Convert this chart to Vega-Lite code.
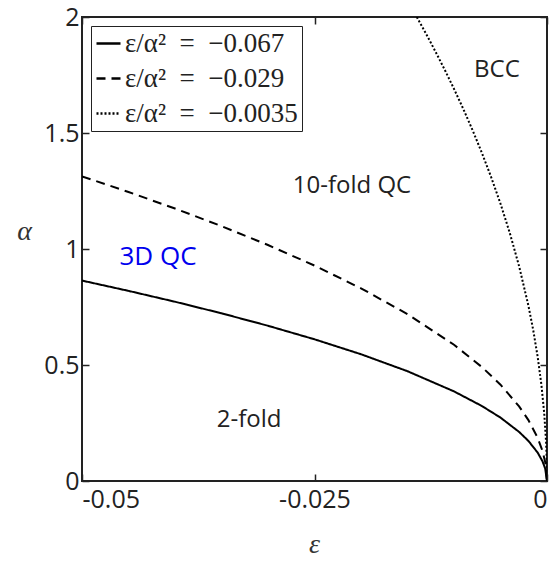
{
  "$schema": "https://vega.github.io/schema/vega-lite/v6.json",
  "autosize": {"type": "none"},
  "width": 465,
  "height": 464,
  "padding": {"left": 82, "top": 17, "right": 10, "bottom": 81},
  "config": {
    "view": {"stroke": "#222", "strokeWidth": 2},
    "axis": {"grid": false, "domain": false, "tickColor": "#222", "tickWidth": 1.5, "tickSize": -7, "labelFont": "Open Sans", "labelFontSize": 25, "labelColor": "#222", "titleFont": "Liberation Serif", "titleFontSize": 28, "titleFontStyle": "italic", "titleFontWeight": "normal", "titleColor": "#333"}
  },
  "datasets": {
    "curves": [
      {"series": "ε/α² = −0.067", "eps": -0.05, "alpha": 0.8639},
      {"series": "ε/α² = −0.067", "eps": -0.045, "alpha": 0.8195},
      {"series": "ε/α² = −0.067", "eps": -0.04, "alpha": 0.7727},
      {"series": "ε/α² = −0.067", "eps": -0.035, "alpha": 0.7228},
      {"series": "ε/α² = −0.067", "eps": -0.03, "alpha": 0.6691},
      {"series": "ε/α² = −0.067", "eps": -0.025, "alpha": 0.6108},
      {"series": "ε/α² = −0.067", "eps": -0.02, "alpha": 0.5464},
      {"series": "ε/α² = −0.067", "eps": -0.015, "alpha": 0.4732},
      {"series": "ε/α² = −0.067", "eps": -0.01, "alpha": 0.3863},
      {"series": "ε/α² = −0.067", "eps": -0.007, "alpha": 0.3232},
      {"series": "ε/α² = −0.067", "eps": -0.005, "alpha": 0.2732},
      {"series": "ε/α² = −0.067", "eps": -0.003, "alpha": 0.2116},
      {"series": "ε/α² = −0.067", "eps": -0.002, "alpha": 0.1728},
      {"series": "ε/α² = −0.067", "eps": -0.001, "alpha": 0.1222},
      {"series": "ε/α² = −0.067", "eps": -0.0005, "alpha": 0.0864},
      {"series": "ε/α² = −0.067", "eps": -0.0002, "alpha": 0.0546},
      {"series": "ε/α² = −0.067", "eps": 0, "alpha": 0},
      {"series": "ε/α² = −0.029", "eps": -0.05, "alpha": 1.3131},
      {"series": "ε/α² = −0.029", "eps": -0.045, "alpha": 1.2457},
      {"series": "ε/α² = −0.029", "eps": -0.04, "alpha": 1.1744},
      {"series": "ε/α² = −0.029", "eps": -0.035, "alpha": 1.0986},
      {"series": "ε/α² = −0.029", "eps": -0.03, "alpha": 1.0171},
      {"series": "ε/α² = −0.029", "eps": -0.025, "alpha": 0.9285},
      {"series": "ε/α² = −0.029", "eps": -0.02, "alpha": 0.8305},
      {"series": "ε/α² = −0.029", "eps": -0.015, "alpha": 0.7192},
      {"series": "ε/α² = −0.029", "eps": -0.01, "alpha": 0.5872},
      {"series": "ε/α² = −0.029", "eps": -0.007, "alpha": 0.4913},
      {"series": "ε/α² = −0.029", "eps": -0.005, "alpha": 0.4152},
      {"series": "ε/α² = −0.029", "eps": -0.003, "alpha": 0.3216},
      {"series": "ε/α² = −0.029", "eps": -0.002, "alpha": 0.2626},
      {"series": "ε/α² = −0.029", "eps": -0.001, "alpha": 0.1857},
      {"series": "ε/α² = −0.029", "eps": -0.0005, "alpha": 0.1313},
      {"series": "ε/α² = −0.029", "eps": -0.0002, "alpha": 0.083},
      {"series": "ε/α² = −0.029", "eps": 0, "alpha": 0},
      {"series": "ε/α² = −0.0035", "eps": -0.014, "alpha": 2.0},
      {"series": "ε/α² = −0.0035", "eps": -0.013, "alpha": 1.9272},
      {"series": "ε/α² = −0.0035", "eps": -0.012, "alpha": 1.8516},
      {"series": "ε/α² = −0.0035", "eps": -0.011, "alpha": 1.7728},
      {"series": "ε/α² = −0.0035", "eps": -0.01, "alpha": 1.6903},
      {"series": "ε/α² = −0.0035", "eps": -0.009, "alpha": 1.6036},
      {"series": "ε/α² = −0.0035", "eps": -0.008, "alpha": 1.5119},
      {"series": "ε/α² = −0.0035", "eps": -0.007, "alpha": 1.4142},
      {"series": "ε/α² = −0.0035", "eps": -0.006, "alpha": 1.3093},
      {"series": "ε/α² = −0.0035", "eps": -0.005, "alpha": 1.1952},
      {"series": "ε/α² = −0.0035", "eps": -0.004, "alpha": 1.069},
      {"series": "ε/α² = −0.0035", "eps": -0.003, "alpha": 0.9258},
      {"series": "ε/α² = −0.0035", "eps": -0.002, "alpha": 0.7559},
      {"series": "ε/α² = −0.0035", "eps": -0.0015, "alpha": 0.6547},
      {"series": "ε/α² = −0.0035", "eps": -0.001, "alpha": 0.5345},
      {"series": "ε/α² = −0.0035", "eps": -0.0006, "alpha": 0.414},
      {"series": "ε/α² = −0.0035", "eps": -0.0003, "alpha": 0.2928},
      {"series": "ε/α² = −0.0035", "eps": -0.0001, "alpha": 0.169},
      {"series": "ε/α² = −0.0035", "eps": -0.00003, "alpha": 0.0926},
      {"series": "ε/α² = −0.0035", "eps": 0, "alpha": 0}
    ],
    "labels": [
      {"label": "BCC", "eps": -0.00538, "alpha": 1.772, "group": "black"},
      {"label": "10-fold QC", "eps": -0.02097, "alpha": 1.272, "group": "black"},
      {"label": "2-fold", "eps": -0.03204, "alpha": 0.263, "group": "black"},
      {"label": "3D QC", "eps": -0.04183, "alpha": 0.966, "group": "blue"}
    ]
  },
  "resolve": {"axis": {"x": "independent", "y": "independent"}},
  "layer": [
    {
      "data": {"name": "curves"},
      "mark": {"type": "line", "color": "black", "strokeWidth": 2, "clip": true},
      "encoding": {
        "x": {"field": "eps", "type": "quantitative", "scale": {"domain": [-0.05, 0], "nice": false}, "axis": {"values": [-0.05, -0.025, 0], "labelExpr": "toString(datum.value)", "title": "ε", "labelPadding": 13, "titleX": 232, "titleY": 63, "titleAlign": "center", "titleBaseline": "middle"}},
        "y": {"field": "alpha", "type": "quantitative", "scale": {"domain": [0, 2], "nice": false}, "axis": {"values": [0, 0.5, 1, 1.5, 2], "labelExpr": "toString(datum.value)", "title": "α", "titleAngle": 0, "labelPadding": 10, "titleX": -58, "titleY": 214, "titleAlign": "center", "titleBaseline": "middle"}},
        "strokeDash": {"field": "series", "type": "nominal", "sort": ["ε/α² = −0.067", "ε/α² = −0.029", "ε/α² = −0.0035"], "scale": {"domain": ["ε/α² = −0.067", "ε/α² = −0.029", "ε/α² = −0.0035"], "range": [[1, 0], [9, 6], [2, 2]]},
          "legend": {"title": null, "orient": "top-left", "offset": 9, "fillColor": "white", "strokeColor": "#222", "padding": 4, "labelFont": "Liberation Serif", "labelFontSize": 27, "labelColor": "#222", "labelLimit": 400, "labelExpr": "replace(datum.label, ' = ', '\u2002=\u2002')", "symbolType": "stroke", "symbolSize": 576, "symbolStrokeWidth": 2.5, "symbolStrokeColor": "black", "rowPadding": 7, "labelOffset": 3}},
        "detail": {"field": "series", "type": "nominal"}
      }
    },
    {
      "data": {"name": "labels"},
      "transform": [{"filter": "datum.group === 'black'"}],
      "mark": {"type": "text", "font": "Open Sans", "fontSize": 24, "color": "#222"},
      "encoding": {
        "x": {"field": "eps", "type": "quantitative", "axis": {"orient": "top", "values": [-0.05, -0.025, 0], "labels": false, "title": null}},
        "y": {"field": "alpha", "type": "quantitative", "axis": {"orient": "right", "values": [0, 0.5, 1, 1.5, 2], "labels": false, "title": null}},
        "text": {"field": "label"}
      }
    },
    {
      "data": {"name": "labels"},
      "transform": [{"filter": "datum.group === 'blue'"}],
      "mark": {"type": "text", "font": "Open Sans", "fontSize": 26, "color": "#0000ee"},
      "encoding": {
        "x": {"field": "eps", "type": "quantitative", "axis": null},
        "y": {"field": "alpha", "type": "quantitative", "axis": null},
        "text": {"field": "label"}
      }
    }
  ]
}
